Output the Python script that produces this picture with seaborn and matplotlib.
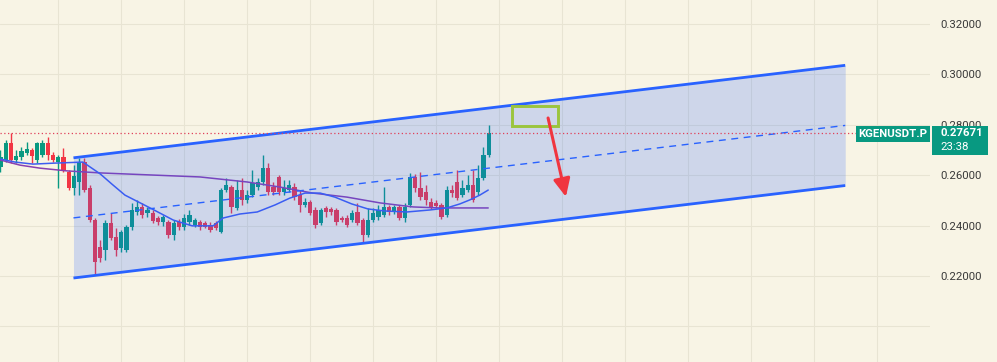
import numpy as np
import pandas as pd
import matplotlib
matplotlib.use("Agg")
import matplotlib.pyplot as plt
import seaborn as sns
from matplotlib.patches import Rectangle
from matplotlib.transforms import blended_transform_factory

# ---------------- data ----------------
opens = [0.2632, 0.2660, 0.2728, 0.2660, 0.2672, 0.2688, 0.2700, 0.2660, 0.2680, 0.2728,
         0.2680, 0.2652, 0.2672, 0.2613, 0.2549, 0.2573, 0.2652, 0.2549, 0.2422, 0.2315,
         0.2303, 0.2410, 0.2355, 0.2311, 0.2303, 0.2395, 0.2454, 0.2474, 0.2450, 0.2450,
         0.2430, 0.2414, 0.2414, 0.2363, 0.2414, 0.2395, 0.2414, 0.2402, 0.2414, 0.2410,
         0.2402, 0.2410, 0.2375, 0.2541, 0.2553, 0.2470, 0.2541, 0.2502, 0.2521, 0.2553,
         0.2573, 0.2628, 0.2553, 0.2593, 0.2533, 0.2541, 0.2553, 0.2521, 0.2482, 0.2494,
         0.2462, 0.2410, 0.2470, 0.2466, 0.2462, 0.2430, 0.2430, 0.2422, 0.2454, 0.2422,
         0.2363, 0.2422, 0.2434, 0.2442, 0.2474, 0.2454, 0.2474, 0.2430, 0.2482, 0.2593,
         0.2549, 0.2533, 0.2494, 0.2490, 0.2482, 0.2442, 0.2541, 0.2573, 0.2521, 0.2541,
         0.2561, 0.2533, 0.2589, 0.2680]
highs = [0.2700, 0.2740, 0.2767, 0.2700, 0.2712, 0.2732, 0.2708, 0.2732, 0.2740, 0.2752,
         0.2692, 0.2680, 0.2708, 0.2621, 0.2640, 0.2669, 0.2669, 0.2561, 0.2430, 0.2343,
         0.2422, 0.2450, 0.2391, 0.2383, 0.2402, 0.2490, 0.2502, 0.2490, 0.2474, 0.2462,
         0.2438, 0.2442, 0.2422, 0.2422, 0.2426, 0.2446, 0.2462, 0.2430, 0.2422, 0.2418,
         0.2414, 0.2418, 0.2549, 0.2589, 0.2561, 0.2581, 0.2589, 0.2541, 0.2621, 0.2589,
         0.2680, 0.2648, 0.2573, 0.2601, 0.2581, 0.2581, 0.2569, 0.2541, 0.2509, 0.2502,
         0.2474, 0.2470, 0.2478, 0.2474, 0.2470, 0.2438, 0.2442, 0.2462, 0.2490, 0.2430,
         0.2470, 0.2470, 0.2482, 0.2553, 0.2482, 0.2482, 0.2482, 0.2490, 0.2609, 0.2605,
         0.2613, 0.2561, 0.2509, 0.2502, 0.2490, 0.2557, 0.2561, 0.2621, 0.2581, 0.2601,
         0.2621, 0.2640, 0.2712, 0.2799]
lows = [0.2613, 0.2652, 0.2648, 0.2648, 0.2660, 0.2680, 0.2648, 0.2648, 0.2672, 0.2660,
        0.2652, 0.2549, 0.2613, 0.2541, 0.2521, 0.2521, 0.2533, 0.2414, 0.2204, 0.2256,
        0.2264, 0.2343, 0.2279, 0.2295, 0.2295, 0.2383, 0.2442, 0.2430, 0.2434, 0.2410,
        0.2402, 0.2399, 0.2351, 0.2343, 0.2383, 0.2383, 0.2402, 0.2395, 0.2383, 0.2391,
        0.2375, 0.2383, 0.2371, 0.2533, 0.2450, 0.2462, 0.2482, 0.2490, 0.2513, 0.2541,
        0.2561, 0.2521, 0.2521, 0.2521, 0.2521, 0.2533, 0.2502, 0.2454, 0.2474, 0.2442,
        0.2391, 0.2402, 0.2434, 0.2442, 0.2402, 0.2414, 0.2395, 0.2414, 0.2402, 0.2335,
        0.2355, 0.2414, 0.2422, 0.2434, 0.2442, 0.2446, 0.2422, 0.2414, 0.2474, 0.2533,
        0.2502, 0.2482, 0.2466, 0.2470, 0.2426, 0.2434, 0.2513, 0.2502, 0.2513, 0.2533,
        0.2494, 0.2521, 0.2581, 0.2672]
closes = [0.2672, 0.2728, 0.2660, 0.2676, 0.2696, 0.2704, 0.2676, 0.2728, 0.2728, 0.2680,
          0.2660, 0.2672, 0.2621, 0.2549, 0.2597, 0.2652, 0.2541, 0.2422, 0.2256, 0.2271,
          0.2410, 0.2351, 0.2303, 0.2375, 0.2395, 0.2462, 0.2474, 0.2442, 0.2462, 0.2418,
          0.2414, 0.2434, 0.2363, 0.2410, 0.2395, 0.2430, 0.2442, 0.2422, 0.2395, 0.2395,
          0.2383, 0.2391, 0.2541, 0.2561, 0.2474, 0.2541, 0.2502, 0.2521, 0.2569, 0.2573,
          0.2628, 0.2533, 0.2533, 0.2533, 0.2549, 0.2561, 0.2513, 0.2482, 0.2494, 0.2450,
          0.2402, 0.2462, 0.2454, 0.2454, 0.2414, 0.2422, 0.2402, 0.2450, 0.2410, 0.2363,
          0.2422, 0.2450, 0.2462, 0.2474, 0.2454, 0.2474, 0.2430, 0.2474, 0.2593, 0.2549,
          0.2513, 0.2502, 0.2474, 0.2478, 0.2434, 0.2541, 0.2529, 0.2509, 0.2549, 0.2561,
          0.2502, 0.2589, 0.2680, 0.27671]

ma_fast_x = [0, 2.8, 6.2, 10.4, 15.7, 19.0, 21.2, 23.7, 28.5, 32.9, 36.5, 40.5, 42.4, 45.6,
             48.9, 52.3, 55.1, 58.0, 60.9, 63.7, 66.9, 70.0, 73.2, 77.4, 81.8, 85.0, 87.5,
             89.4, 91.3, 92.9]
ma_fast_y = [0.2664, 0.2652, 0.2644, 0.2648, 0.2652, 0.2605, 0.2565, 0.2521, 0.2470, 0.2422,
             0.2399, 0.2399, 0.2430, 0.2446, 0.2454, 0.2482, 0.2509, 0.2529, 0.2529, 0.2513,
             0.2486, 0.2466, 0.2458, 0.2454, 0.2462, 0.2470, 0.2486, 0.2502, 0.2521, 0.2541]
ma_slow_x = [0, 3.7, 7.5, 12.7, 19.0, 28.5, 38.0, 47.0, 53.2, 59.5, 66.0, 72.3, 78.6, 83.7, 92.9]
ma_slow_y = [0.2660, 0.2640, 0.2628, 0.2617, 0.2609, 0.2601, 0.2593, 0.2573, 0.2553, 0.2529,
             0.2513, 0.2490, 0.2474, 0.2470, 0.2470]

channel_x = [13.9, 160.9]
channel_upper = [0.2669, 0.3036]
channel_lower = [0.2192, 0.2559]

price_ticks = [0.20, 0.22, 0.24, 0.26, 0.28, 0.30, 0.32]
price_labels = ["", "0.22000", "0.24000", "0.26000", "0.28000", "0.30000", "0.32000"]
last_price = 0.27671
symbol = "KGENUSDT.P"
last_price_text = "0.27671"
countdown = "23:38"

target_box_x = [97.4, 106.2]
target_box_y = [0.2795, 0.2875]
arrow_start = (104.3, 0.2827)
arrow_end = (107.7, 0.2514)

# ---------------- style ----------------
BG = "#f8f4e5"
GRID = "#e8e4d3"
UP = "#089981"
DOWN = "#f23645"
CH = "#2962ff"

sns.set_theme(style="white")
plt.rcParams['font.family'] = ['Roboto', 'DejaVu Sans']

W, H = 997, 362
fig = plt.figure(figsize=(W / 100, H / 100), dpi=100)
fig.patch.set_facecolor(BG)
ax = fig.add_axes([0, 0, 930 / W, 1])
ax.set_facecolor(BG)

ybot, ytop = 0.18587, 0.32952
ax.set_ylim(ybot, ytop)
ax.set_xlim(-0.095, -0.095 + 930 / 5.25)
ppu = H / (ytop - ybot)  # pixels per price unit

df = pd.DataFrame({"o": opens, "h": highs, "l": lows, "c": closes})
df["i"] = np.arange(len(df))
cols = np.where(df["c"] >= df["o"], UP, DOWN)

# wicks and bodies
ax.vlines(df["i"], df["l"], df["h"], colors=cols, lw=1.0, zorder=2)
body_lo = np.minimum(df["o"], df["c"])
body_h = np.maximum(np.abs(df["c"] - df["o"]), 1.5 / ppu)
ax.bar(df["i"], body_h, bottom=body_lo, width=0.78, color=cols, lw=0, zorder=2)

# moving averages
sns.lineplot(x=ma_slow_x, y=ma_slow_y, ax=ax, color="#8a3fb0", lw=1.1, zorder=2.6)
sns.lineplot(x=ma_fast_x, y=ma_fast_y, ax=ax, color="#3f5cf0", lw=1.1, zorder=2.7)

# channel
ax.fill_between(channel_x, channel_lower, channel_upper, color=CH, alpha=0.2, lw=0, zorder=3)
ax.plot(channel_x, channel_upper, color=CH, lw=2.0, zorder=4, solid_capstyle="butt")
ax.plot(channel_x, channel_lower, color=CH, lw=2.0, zorder=4, solid_capstyle="butt")
mid = [(a + b) / 2 for a, b in zip(channel_upper, channel_lower)]
ax.plot(channel_x, mid, color=CH, lw=1.0, ls=(0, (5, 4)), zorder=4)

# last price dotted line
ax.axhline(last_price, xmin=0, xmax=856 / 930, color="#e0405a", lw=0.9,
           ls=(0, (1, 2)), zorder=4.5)

# target box and arrow
ax.add_patch(Rectangle((target_box_x[0], target_box_y[0]),
                       target_box_x[1] - target_box_x[0],
                       target_box_y[1] - target_box_y[0],
                       fill=False, ec="#9bc53d", lw=2.1, zorder=5))
ax.annotate("", xy=arrow_end, xytext=arrow_start,
            arrowprops=dict(arrowstyle="-|>,head_length=0.9,head_width=0.42",
                            mutation_scale=12, color="#f0353f", lw=2.2,
                            shrinkA=0, shrinkB=0), zorder=6)

# grid & axis
ax.set_xticks(np.arange(11, 178, 12))
ax.set_yticks(price_ticks)
ax.set_yticklabels(price_labels)
ax.yaxis.tick_right()
ax.tick_params(axis="y", length=0, pad=7.3, labelsize=8.2, labelcolor="#3a3a3a")
ax.tick_params(axis="x", length=0, labelbottom=False)
ax.grid(True, color=GRID, lw=0.8)
ax.set_axisbelow(True)
for s in ax.spines.values():
    s.set_visible(False)

# labels on price scale
tr = blended_transform_factory(ax.transAxes, ax.transData)
ax.add_patch(Rectangle((856 / 930, last_price - 9 / ppu), 74 / 930, 16 / ppu,
                       transform=tr, color=UP, lw=0, clip_on=False, zorder=10))
ax.text(893 / 930, last_price - 1 / ppu, symbol, transform=tr, ha="center", va="center",
        color="white", fontsize=8.2, fontweight="bold", zorder=11, clip_on=False)
ax.add_patch(Rectangle((932 / 930, last_price - 22 / ppu), 56 / 930, 29 / ppu,
                       transform=tr, color=UP, lw=0, clip_on=False, zorder=10))
ax.text(940 / 930, last_price, last_price_text, transform=tr, ha="left", va="center",
        color="white", fontsize=8.2, fontweight="bold", zorder=11, clip_on=False)
ax.text(940 / 930, last_price - 14 / ppu, countdown, transform=tr, ha="left", va="center",
        color="white", fontsize=8.2, zorder=11, clip_on=False)

fig.savefig("out.png", dpi=100, facecolor=BG)
